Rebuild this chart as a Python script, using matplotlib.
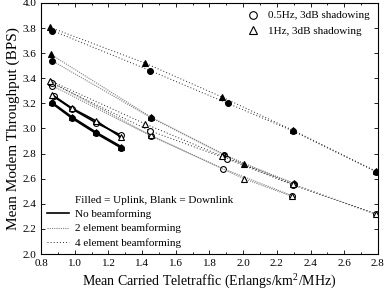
import matplotlib
matplotlib.use('Agg')
import matplotlib.pyplot as plt
from matplotlib.lines import Line2D
from matplotlib.ticker import MultipleLocator

plt.rcParams['font.family'] = ['Liberation Serif', 'DejaVu Serif']
plt.rcParams['mathtext.fontset'] = 'custom'
plt.rcParams['mathtext.rm'] = 'Liberation Serif'

# No beamforming (solid)
nb_ul_c_x = [0.865, 0.985, 1.127, 1.276]
nb_ul_c_y = [3.20, 3.08, 2.96, 2.845]
nb_ul_t_x = [0.862, 0.985, 1.127, 1.276]
nb_ul_t_y = [3.21, 3.09, 2.97, 2.855]
nb_dl_c_x = [0.875, 0.985, 1.127, 1.276]
nb_dl_c_y = [3.255, 3.155, 3.045, 2.945]
nb_dl_t_x = [0.864, 0.985, 1.127, 1.276]
nb_dl_t_y = [3.27, 3.16, 3.06, 2.93]

# 2 element beamforming
b2_ul_c_x = [0.865, 1.453, 1.885, 2.300]
b2_ul_c_y = [3.54, 3.086, 2.79, 2.56]
b2_ul_t_x = [0.858, 1.453, 2.004, 2.300]
b2_ul_t_y = [3.59, 3.09, 2.715, 2.565]
b2_dl_c_x = [0.867, 1.453, 1.880, 2.290]
b2_dl_c_y = [3.34, 2.94, 2.68, 2.465]
b2_dl_t_x = [0.860, 1.453, 2.004, 2.290]
b2_dl_t_y = [3.37, 2.945, 2.60, 2.46]

# 4 element beamforming
b4_ul_c_x = [0.867, 1.449, 1.909, 2.296, 2.788]
b4_ul_c_y = [3.78, 3.46, 3.20, 2.98, 2.656]
b4_ul_t_x = [0.854, 1.419, 1.875, 2.296, 2.788]
b4_ul_t_y = [3.805, 3.52, 3.25, 2.985, 2.66]
b4_dl_c_x = [0.865, 1.449, 1.907, 2.296, 2.788]
b4_dl_c_y = [3.36, 2.98, 2.757, 2.55, 2.317]
b4_dl_t_x = [0.855, 1.419, 1.875, 2.296, 2.788]
b4_dl_t_y = [3.38, 3.036, 2.78, 2.555, 2.32]

styles = {
    'none': dict(color='black', linestyle='-', lw=1.2),
    '2el': dict(color='0.5', linestyle=(0, (1, 1)), lw=0.8),
    '4el': dict(color='0.15', linestyle=(0, (1, 2.2)), lw=0.7),
}

series = [
    (nb_ul_c_x, nb_ul_c_y, 'none', 'o', True),
    (nb_ul_t_x, nb_ul_t_y, 'none', '^', True),
    (nb_dl_c_x, nb_dl_c_y, 'none', 'o', False),
    (nb_dl_t_x, nb_dl_t_y, 'none', '^', False),
    (b2_ul_c_x, b2_ul_c_y, '2el', 'o', True),
    (b2_ul_t_x, b2_ul_t_y, '2el', '^', True),
    (b2_dl_c_x, b2_dl_c_y, '2el', 'o', False),
    (b2_dl_t_x, b2_dl_t_y, '2el', '^', False),
    (b4_ul_c_x, b4_ul_c_y, '4el', 'o', True),
    (b4_ul_t_x, b4_ul_t_y, '4el', '^', True),
    (b4_dl_c_x, b4_dl_c_y, '4el', 'o', False),
    (b4_dl_t_x, b4_dl_t_y, '4el', '^', False),
]

fig = plt.figure(figsize=(3.84, 2.94), dpi=100)
ax = fig.add_axes([0.107, 0.136, 0.877, 0.854])

for xs, ys, kind, mk, filled in series:
    st = styles[kind]
    ax.plot(xs, ys, color=st['color'], linestyle=st['linestyle'], lw=st['lw'])
    ax.plot(xs, ys, linestyle='none', marker=mk, markersize=4.2 if mk == 'o' else 4,
            markerfacecolor='black' if filled else 'white',
            markeredgecolor='black', markeredgewidth=0.8)

ax.set_xlim(0.8, 2.8)
ax.set_ylim(2.0, 4.0)
ax.xaxis.set_major_locator(MultipleLocator(0.2))
ax.xaxis.set_minor_locator(MultipleLocator(0.1))
ax.yaxis.set_major_locator(MultipleLocator(0.2))
ax.tick_params(which='both', direction='in', top=True, right=True, labelsize=8, width=0.6)
ax.tick_params(which='major', length=3)
ax.tick_params(which='minor', length=1.5)
ax.xaxis.set_major_formatter(matplotlib.ticker.FormatStrFormatter('%.1f'))
ax.yaxis.set_major_formatter(matplotlib.ticker.FormatStrFormatter('%.1f'))
for sp in ax.spines.values():
    sp.set_linewidth(0.8)

ax.set_xlabel(r'Mean Carried Teletraffic (Erlangs/km$^2$/MHz)', fontsize=10, labelpad=2)
ax.set_ylabel('Mean Modem Throughput (BPS)', fontsize=11, labelpad=2)

# marker legend (top right)
mk_handles = [
    Line2D([], [], linestyle='none', marker='o', markersize=5.5, markerfacecolor='white',
           markeredgecolor='black', markeredgewidth=0.8),
    Line2D([], [], linestyle='none', marker='^', markersize=5.5, markerfacecolor='white',
           markeredgecolor='black', markeredgewidth=0.8),
]
leg1 = ax.legend(mk_handles, ['0.5Hz, 3dB shadowing', '1Hz, 3dB shadowing'],
                 loc='upper right', frameon=False, fontsize=8, handlelength=1.0,
                 handletextpad=0.9, labelspacing=0.55, borderaxespad=0.3)
ax.add_artist(leg1)

ln_handles = [
    Line2D([], [], linestyle='none'),
    Line2D([], [], **styles['none']),
    Line2D([], [], **styles['2el']),
    Line2D([], [], **styles['4el']),
]
ax.legend(ln_handles, ['Filled = Uplink, Blank = Downlink', 'No beamforming',
                       '2 element beamforming', '4 element beamforming'],
          loc='lower left', frameon=False, fontsize=8, handlelength=2.0,
          handletextpad=0.5, labelspacing=0.42, borderaxespad=0.15)

fig.savefig('out.png', dpi=100)
